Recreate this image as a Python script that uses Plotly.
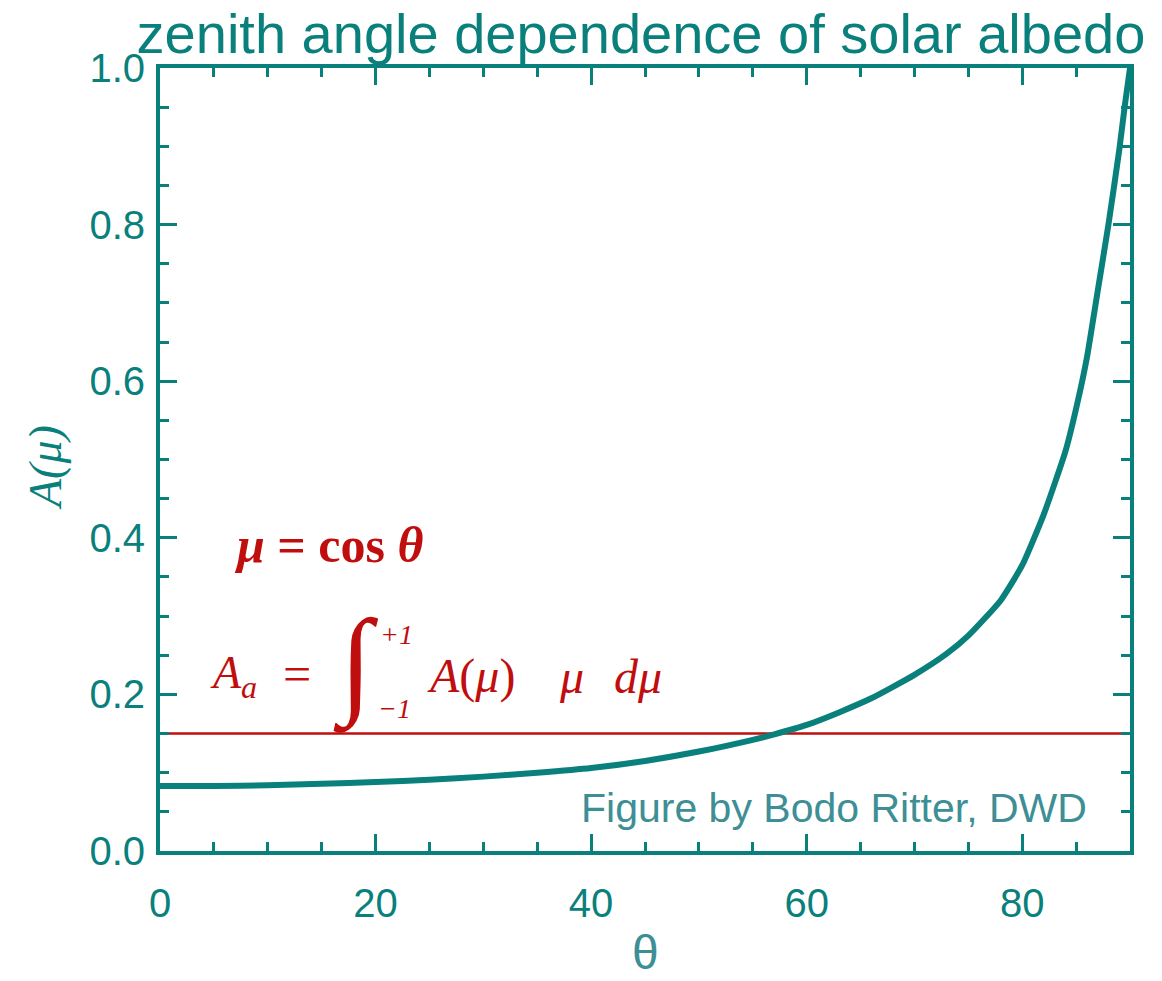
import plotly.graph_objects as go

# ---- data ----
theta_deg = [0, 5, 10, 15, 20, 25, 30, 35, 40, 45, 50, 55, 57, 60, 63, 66, 70,
             73, 75, 78, 80, 82, 84, 85, 86, 87, 88, 89, 89.5, 90]
albedo = [0.083, 0.083, 0.084, 0.086, 0.088, 0.091, 0.095, 0.100, 0.106, 0.115,
          0.127, 0.142, 0.149, 0.161, 0.177, 0.195, 0.225, 0.252, 0.275, 0.32,
          0.365, 0.43, 0.51, 0.565, 0.63, 0.715, 0.80, 0.895, 0.95, 1.0]
mean_albedo_x = [0, 90]
mean_albedo_y = [0.15, 0.15]
x_tickvals = [0, 20, 40, 60, 80]
y_tickvals = [0.0, 0.2, 0.4, 0.6, 0.8, 1.0]

TEAL = "rgb(10,128,124)"
LTEAL = "rgb(62,143,149)"
RED = "rgb(192,14,14)"

W, H = 1162, 981
L, R, T, B = 160, 1130, 68, 851


def px(x):
    return (x - L) / (R - L)


def py(y):
    return (B - y) / (B - T)


fig = go.Figure()
fig.add_trace(go.Scatter(x=mean_albedo_x, y=mean_albedo_y, mode="lines",
                         line=dict(color=RED, width=2.5), showlegend=False))
fig.add_trace(go.Scatter(x=theta_deg, y=albedo, mode="lines",
                         line=dict(color=TEAL, width=6, shape="spline", smoothing=0.5),
                         showlegend=False, cliponaxis=False))

axis_common = dict(
    showgrid=False, zeroline=False, showline=True, linecolor=TEAL, linewidth=4,
    mirror="allticks", ticks="inside", ticklen=17, tickwidth=3, tickcolor=TEAL,
    tickfont=dict(family="Liberation Sans", size=40, color=TEAL),
)

fig.update_xaxes(range=[0, 90], tickvals=x_tickvals,
                 minor=dict(dtick=5, ticks="inside", ticklen=9, tickwidth=3, tickcolor=TEAL, showgrid=False),
                 ticklabelstandoff=14, **axis_common)
fig.update_yaxes(range=[0, 1.0], tickvals=y_tickvals, tickformat=".1f",
                 minor=dict(dtick=0.05, ticks="inside", ticklen=9, tickwidth=3, tickcolor=TEAL, showgrid=False),
                 ticklabelstandoff=3, **axis_common)


def note(text, x, y, size, color, family="Liberation Serif", xanchor="center", **kw):
    return dict(text=text, x=px(x), y=py(y), xref="paper", yref="paper",
                xanchor=xanchor, yanchor="middle", showarrow=False,
                font=dict(family=family, size=size, color=color), **kw)


ann = [
    # x axis title
    note("θ", 645, 952, 48, LTEAL, family="Liberation Sans"),
    # y axis title
    note("<i>A(μ)</i>", 45, 468, 46, TEAL, textangle=-90),
    # credit
    note("Figure by Bodo Ritter, DWD", 834, 808, 41, LTEAL, family="Liberation Sans"),
    # mu = cos theta
    note("<b><i>μ</i> = cos <i>θ</i></b>", 232, 545, 50, RED, xanchor="left"),
    # integral formula pieces
    note("<i>A</i><sub><i>a</i></sub>", 208, 676, 46, RED, xanchor="left"),
    note("=", 297, 674, 50, RED),
    note("∫", 356, 664, 118, RED),
    note("<i>+1</i>", 378, 634, 28, RED, xanchor="left"),
    note("<i>−1</i>", 376, 708, 28, RED, xanchor="left"),
    note("<i>A</i>(<i>μ</i>)", 425, 676, 48, RED, xanchor="left"),
    note("<i>μ</i>", 557, 676, 48, RED, xanchor="left"),
    note("<i>dμ</i>", 612, 676, 48, RED, xanchor="left"),
]

fig.update_layout(
    width=W, height=H,
    margin=dict(l=L, r=W - R, t=T, b=H - B, pad=0),
    paper_bgcolor="white", plot_bgcolor="white",
    title=dict(text="zenith angle dependence of solar albedo", x=px(641), xref="paper",
               y=1 - 33 / H, yref="container", xanchor="center", yanchor="middle",
               font=dict(family="Liberation Sans", size=56, color=TEAL)),
    annotations=ann,
    showlegend=False,
)

fig.write_html("out.html")
